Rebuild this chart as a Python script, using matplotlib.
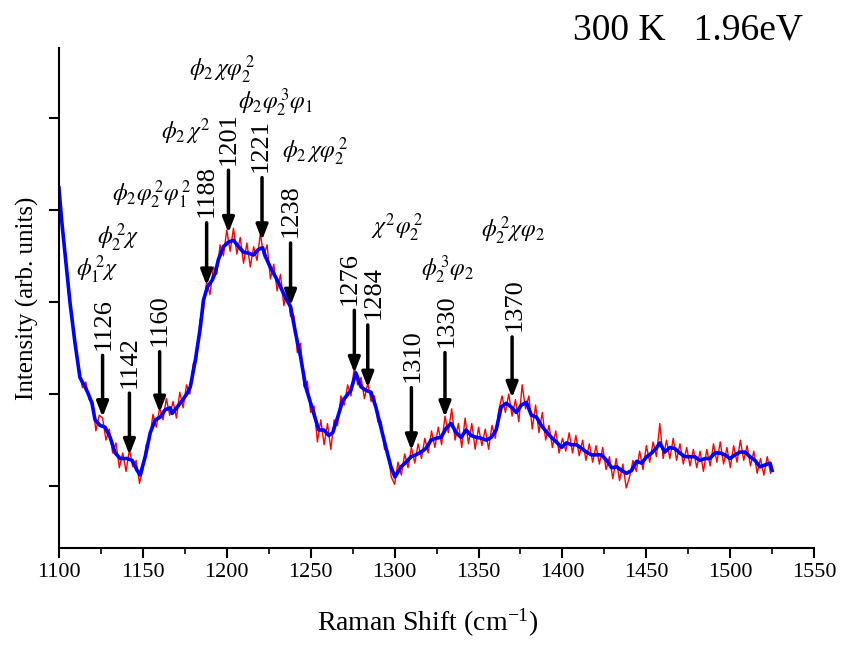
import numpy as np
import matplotlib
matplotlib.use("Agg")
import matplotlib.pyplot as plt

plt.rcParams['font.family'] = ['Liberation Serif', 'DejaVu Serif']
plt.rcParams['mathtext.fontset'] = 'stix'

# espectro medido (rojo), paso de 2 cm-1
raman_x = np.arange(1100, 1526, 2)
raman_raw = [
    3.28, 2.83, 2.52, 2.05, 1.84, 1.46, 1.25, 1.07, 1.13, 0.94,
    0.92, 0.60, 0.77, 0.74, 0.50, 0.62, 0.36, 0.47, 0.20, 0.36,
    0.16, 0.40, 0.21, 0.28, 0.03, 0.18, 0.45, 0.50, 0.78, 0.64,
    0.85, 0.72, 0.95, 0.77, 0.92, 0.74, 1.02, 0.85, 1.10, 1.00,
    1.33, 1.38, 1.80, 1.90, 2.22, 2.08, 2.38, 2.30, 2.62, 2.50,
    2.78, 2.55, 2.80, 2.52, 2.70, 2.42, 2.64, 2.38, 2.60, 2.45,
    2.74, 2.50, 2.62, 2.25, 2.41, 2.12, 2.30, 1.96, 2.14, 1.84,
    1.85, 1.45, 1.55, 1.08, 1.14, 0.80, 0.87, 0.48, 0.72, 0.45,
    0.68, 0.40, 0.72, 0.66, 0.98, 0.88, 1.10, 0.98, 1.30, 1.10,
    1.18, 0.95, 1.12, 0.92, 0.98, 0.70, 0.70, 0.40, 0.38, 0.10,
    0.02, 0.26, 0.12, 0.35, 0.20, 0.42, 0.25, 0.46, 0.30, 0.52,
    0.36, 0.60, 0.42, 0.64, 0.45, 0.76, 0.58, 0.84, 0.50, 0.68,
    0.42, 0.74, 0.46, 0.68, 0.40, 0.64, 0.44, 0.62, 0.40, 0.66,
    0.52, 0.82, 0.98, 0.80, 1.00, 0.76, 0.94, 0.70, 1.10, 0.84,
    0.98, 0.62, 0.88, 0.58, 0.80, 0.50, 0.66, 0.42, 0.60, 0.36,
    0.52, 0.38, 0.58, 0.36, 0.55, 0.33, 0.50, 0.28, 0.46, 0.26,
    0.44, 0.24, 0.42, 0.18, 0.32, 0.08, 0.30, 0.06, 0.24, -0.02,
    0.10, 0.28, 0.16, 0.38, 0.18, 0.44, 0.26, 0.48, 0.32, 0.68,
    0.30, 0.50, 0.30, 0.52, 0.28, 0.46, 0.24, 0.42, 0.22, 0.40,
    0.20, 0.38, 0.16, 0.40, 0.22, 0.46, 0.26, 0.48, 0.24, 0.42,
    0.20, 0.44, 0.26, 0.50, 0.28, 0.44, 0.22, 0.38, 0.14, 0.30,
    0.12, 0.32, 0.14,
]

# espectro suavizado (azul)
smooth_x = [
    1100, 1101.6, 1103.6, 1106.6, 1109.6, 1112.5, 1115.5, 1117.3, 1119.7, 1121.5,
    1124.5, 1127.5, 1130.5, 1133.5, 1136.5, 1140.6, 1143.6, 1146.6, 1148.4, 1151.4,
    1154.4, 1157.4, 1160.4, 1163.3, 1166.3, 1167.5, 1170.5, 1173.5, 1176.5, 1178.3,
    1181.3, 1184.3, 1186.1, 1188.4, 1191.4, 1193.2, 1195.0, 1198.0, 1201.0, 1204.0,
    1207.0, 1210.0, 1212.9, 1215.9, 1218.9, 1221.3, 1223.1, 1226.1, 1229.1, 1232.1,
    1235.1, 1238.0, 1241.0, 1244.0, 1247.0, 1250.0, 1253.0, 1254.8, 1257.8, 1260.8,
    1263.1, 1266.1, 1269.1, 1270.9, 1273.9, 1276.9, 1279.9, 1282.9, 1285.9, 1288.8,
    1291.8, 1294.8, 1297.8, 1300.2, 1303.8, 1306.8, 1309.8, 1312.7, 1315.7, 1318.7,
    1321.7, 1324.7, 1327.7, 1330.7, 1333.7, 1336.7, 1339.6, 1342.6, 1345.6, 1348.6,
    1351.6, 1354.6, 1357.6, 1360.5, 1363.5, 1366.5, 1369.5, 1372.5, 1375.5, 1378.5,
    1381.5, 1384.5, 1387.4, 1390.4, 1393.4, 1396.4, 1399.4, 1402.4, 1405.4, 1408.4,
    1411.3, 1414.3, 1417.3, 1420.3, 1423.3, 1426.3, 1429.3, 1432.3, 1435.3, 1438.2,
    1441.2, 1444.2, 1447.2, 1450.2, 1453.2, 1456.2, 1458.0, 1461.0, 1464.0, 1466.9,
    1469.9, 1472.9, 1475.9, 1478.9, 1481.9, 1484.9, 1487.8, 1490.8, 1493.8, 1496.8,
    1499.8, 1502.8, 1505.8, 1508.8, 1511.7, 1514.7, 1517.7, 1520.7, 1523.7, 1524.9,
]
smooth_y = [
    3.24, 2.89, 2.53, 1.99, 1.55, 1.18, 1.08, 1.01, 0.90, 0.72,
    0.66, 0.64, 0.53, 0.36, 0.30, 0.30, 0.28, 0.17, 0.12, 0.32,
    0.58, 0.72, 0.75, 0.83, 0.85, 0.79, 0.86, 0.93, 1.01, 1.08,
    1.37, 1.73, 2.02, 2.16, 2.24, 2.32, 2.46, 2.60, 2.65, 2.67,
    2.60, 2.54, 2.53, 2.51, 2.57, 2.59, 2.49, 2.37, 2.27, 2.16,
    2.04, 1.95, 1.66, 1.40, 1.08, 0.90, 0.72, 0.61, 0.61, 0.55,
    0.58, 0.75, 0.93, 0.97, 1.04, 1.23, 1.08, 1.04, 1.02, 0.86,
    0.64, 0.42, 0.21, 0.10, 0.21, 0.26, 0.32, 0.34, 0.37, 0.41,
    0.50, 0.52, 0.53, 0.63, 0.68, 0.58, 0.53, 0.61, 0.55, 0.53,
    0.52, 0.50, 0.53, 0.61, 0.86, 0.90, 0.86, 0.80, 0.88, 0.91,
    0.77, 0.75, 0.66, 0.59, 0.53, 0.48, 0.42, 0.47, 0.45, 0.45,
    0.41, 0.37, 0.34, 0.34, 0.34, 0.28, 0.20, 0.21, 0.17, 0.14,
    0.17, 0.27, 0.25, 0.32, 0.36, 0.42, 0.47, 0.37, 0.42, 0.41,
    0.36, 0.32, 0.32, 0.32, 0.28, 0.30, 0.30, 0.36, 0.36, 0.34,
    0.30, 0.34, 0.37, 0.37, 0.32, 0.28, 0.21, 0.23, 0.25, 0.17,
]

# modos asignados: posicion, inicio y punta de la flecha
peak_pos = [1126, 1142, 1160, 1188, 1201, 1221, 1238, 1276, 1284, 1310, 1330, 1370]
arrow_top = [1.42, 1.01, 1.46, 2.86, 3.43, 3.35, 2.64, 1.91, 1.75, 1.07, 1.45, 1.62]
arrow_tip = [0.75, 0.34, 0.80, 2.18, 2.75, 2.67, 1.96, 1.23, 1.07, 0.39, 0.75, 0.96]
# corrimiento horizontal del numero (puntos) para que no se pisen
label_dx = [1, 0, 0, 0, 0, -1, 0, -3, 4, 1, 1, 2]

mode_labels = [r'$\phi_1^{\,2}\chi$', r'$\phi_2^{\,2}\chi$',
               r'$\phi_2\varphi_2^{\,2}\varphi_1^{\,2}$', r'$\phi_2\,\chi^{2}$',
               r'$\phi_2\,\chi\varphi_2^{\,2}$', r'$\phi_2\varphi_2^{\,3}\varphi_1$',
               r'$\phi_2\,\chi\varphi_2^{\,2}$', r'$\chi^{2}\varphi_2^{\,2}$',
               r'$\phi_2^{\,3}\varphi_2$', r'$\phi_2^{\,2}\chi\varphi_2$']
mode_x = [1122.7, 1135.3, 1155.6, 1175.3, 1197.4, 1229.1, 1252.4, 1301.4, 1331.9, 1370.7]
mode_y = [2.35, 2.70, 3.16, 3.85, 4.52, 4.16, 3.63, 2.80, 2.35, 2.77]

fig = plt.figure(figsize=(8.42, 6.45), dpi=100)
ax = fig.add_axes([0.070, 0.150, 0.897, 0.776])

ax.plot(raman_x, raman_raw, color='#ff0000', lw=1.0)
ax.plot(smooth_x, smooth_y, color='#0000ff', lw=2.6)

for p, top, tip, dx in zip(peak_pos, arrow_top, arrow_tip, label_dx):
    ax.annotate('', xy=(p, tip), xytext=(p, top),
                arrowprops=dict(arrowstyle='-|>,head_length=0.9,head_width=0.35',
                                lw=2.5, color='black', shrinkA=0, shrinkB=0))
    ax.annotate(str(p), xy=(p, top), xytext=(dx, 4), textcoords='offset points',
                rotation=90, ha='center', va='bottom', fontsize=19)

for lab, mx, my in zip(mode_labels, mode_x, mode_y):
    ax.text(mx, my, lab, ha='center', va='center', fontsize=17)

ax.set_xlim(1100, 1550)
ax.set_ylim(-0.674, 4.76)
ax.set_xticks(np.arange(1100, 1551, 50))
ax.set_xticks(np.arange(1125, 1550, 50), minor=True)
ax.set_yticks([0, 1, 2, 3, 4])
ax.set_yticklabels([])
ax.tick_params(axis='both', which='major', direction='out', length=7, width=1.5, labelsize=16)
ax.tick_params(axis='x', which='minor', direction='out', length=4, width=1.2)
ax.spines['top'].set_visible(False)
ax.spines['right'].set_visible(False)
ax.spines['left'].set_linewidth(1.5)
ax.spines['bottom'].set_linewidth(1.5)

ax.set_xlabel(r'Raman Shift (cm$^{\mathregular{-1}}$)', fontsize=20)
ax.xaxis.set_label_coords(0.488, -0.115)
ax.set_ylabel('Intensity (arb. units)', fontsize=18)
ax.yaxis.set_label_coords(-0.027, 0.5)

fig.text(0.954, 0.938, '300 K   1.96eV', ha='right', va='baseline', fontsize=27)

plt.savefig('out.png', dpi=100)
